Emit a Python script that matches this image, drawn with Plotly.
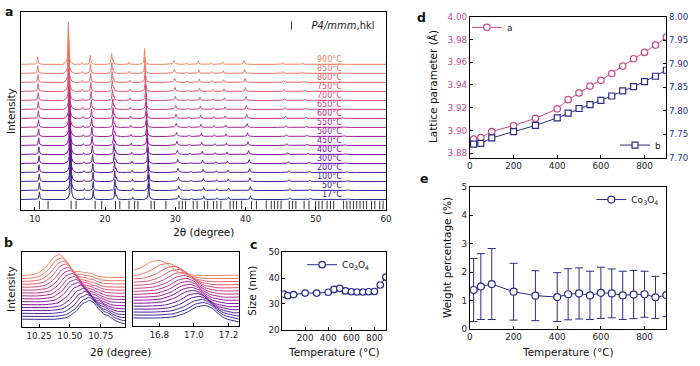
import numpy as np
import plotly.graph_objects as go

W, H = 700, 366
FONT = "DejaVu Sans"

# ---------------- data ----------------
TEMPS = [17, 50, 100, 200, 300, 400, 450, 500, 550, 600, 650, 700, 750, 800, 850, 900]
TEMP_LABELS = [f"{t}°C" for t in TEMPS]

CURVE_COLORS = ["#2c2a96", "#3a2398", "#4a1d9c", "#5b169f", "#6c12a0", "#7d109f",
                "#8e149c", "#9e1c96", "#ad268f", "#bb3188", "#c83d80", "#d34a78",
                "#dd5870", "#e5676a", "#eb7565", "#f08460"]

# panel a: reflections of the 17 °C pattern (2theta, height, width factor)
A_PEAK_POS = [10.66, 15.12, 17.07, 18.32, 21.42, 21.62, 23.95, 26.22, 30.5, 32.3,
              34.06, 35.95, 37.6, 40.72, 46.3, 49.25, 54.6]
A_PEAK_H = [0.85, 4.7, 0.2, 1.0, 1.15, 0.35, 0.25, 1.75, 0.45, 0.12,
            0.35, 0.2, 0.28, 0.42, 0.2, 0.15, 0.1]
A_PEAK_W = [1, 1, 1, 1, 1, 1, 1, 1, 1.8, 1.5, 1.3, 1.2, 1.2, 1.3, 1.5, 1.5, 1.5]
# peak position scale for each temperature (thermal expansion)
A_SCALE = [1.0, 0.99964, 0.99828, 0.99693, 0.99533, 0.99319, 0.99117, 0.98966,
           0.98815, 0.98690, 0.98540, 0.98376, 0.98217, 0.98078, 0.97920, 0.97748]
A_PROF_DX = [-0.8, -0.35, -0.15, -0.06, 0.0, 0.06, 0.15, 0.35, 0.8]
A_PROF_Y = [0.0, 0.05, 0.16, 0.5, 1.0, 0.5, 0.16, 0.05, 0.0]

HKL_POS = [10.66, 11.89, 15.17, 15.87, 18.59, 19.52, 21.49, 22.10, 23.41, 24.21, 24.68,
           26.55, 27.02, 28.66, 30.53, 31.0, 31.47, 32.55, 33.11, 34.14, 34.61, 35.45,
           35.92, 36.49, 37.8, 38.26, 38.73, 39.44, 40.84, 41.55, 42.95, 43.66, 44.12,
           44.59, 45.06, 46.23, 46.70, 47.17, 48.34, 49.04, 49.98, 50.44, 50.91, 51.61,
           52.09, 52.55, 53.96, 54.42, 54.89, 55.36, 55.83, 56.3, 56.77, 57.24, 57.94,
           58.41, 59.11, 59.58]

# panel b, left window (~10.5 deg)
B1_MAIN_POS = [10.657, 10.653, 10.639, 10.624, 10.607, 10.584, 10.563, 10.547,
               10.531, 10.517, 10.501, 10.484, 10.467, 10.452, 10.435, 10.417]
B1_MAIN_H = [6.0, 6.05, 6.1, 6.15, 6.2, 6.3, 6.35, 6.4, 6.45, 6.5, 6.6, 6.65, 6.75, 6.8, 6.9, 7.0]
B1_SIDE_POS = [10.81, 10.805, 10.795, 10.78, 10.765, 10.745, 10.73, 10.715,
               10.70, 10.69, 10.68, 10.67, 10.66, 10.65, 10.64, 10.633]
B1_SIDE_H = [2.0, 2.0, 1.98, 1.96, 1.94, 1.92, 1.9, 1.88, 1.86, 1.84, 1.82, 1.8, 1.78, 1.75, 1.72, 1.7]
B1_DROP = [1.7, 1.65, 1.6, 1.55, 1.5, 1.45, 1.4, 1.3, 1.25, 1.2, 1.1, 1.05, 1.0, 0.9, 0.8, 0.7]

# panel b, right window (~17 deg)
B2_MAIN_POS = [17.065, 17.06, 17.05, 17.035, 17.02, 17.0, 16.99, 16.98,
               16.97, 16.96, 16.95, 16.935, 16.915, 16.89, 16.855, 16.80]
B2_MAIN_H = [4.2, 4.2, 4.2, 4.25, 4.25, 4.25, 4.3, 4.3, 4.3, 4.3, 4.3, 4.35, 4.35, 4.35, 4.4, 4.4]
B2_DROP = [1.4, 1.35, 1.3, 1.25, 1.2, 1.15, 1.1, 1.0, 0.95, 0.9, 0.85, 0.8, 0.75, 0.7, 0.65, 0.6]

B_PROF_DX = [-0.28, -0.18, -0.11, -0.05, 0.0, 0.04, 0.08, 0.12, 0.2]
B_PROF_Y = [0.0, 0.1, 0.42, 0.88, 1.0, 0.8, 0.4, 0.12, 0.0]
DROP_DX = [0.03, 0.2]

# panel c
C_SIZE = [33.8, 33.2, 33.6, 34.2, 34.2, 34.5, 35.6, 36.0, 35.0, 34.7, 34.6, 34.6, 34.7, 34.8, 37.3, 40.3]

# panel d
LAT_A = [3.8923, 3.8937, 3.899, 3.9043, 3.9106, 3.919, 3.927, 3.933, 3.939, 3.944,
         3.950, 3.9566, 3.963, 3.9686, 3.975, 3.982]
LAT_B = [7.7287, 7.7307, 7.742, 7.7553, 7.7687, 7.7847, 7.7947, 7.8047, 7.813, 7.822,
         7.8313, 7.842, 7.851, 7.862, 7.8733, 7.886]

# panel e
E_VAL = [1.37, 1.49, 1.58, 1.31, 1.17, 1.12, 1.22, 1.25, 1.18, 1.27, 1.25, 1.18, 1.21, 1.22, 1.11, 1.19]
E_ERR = [1.11, 1.16, 1.25, 1.0, 0.88, 0.86, 0.9, 0.9, 0.85, 0.9, 0.86, 0.85, 0.85, 0.81, 0.74, 0.76]

PINK = "#c94d8a"
NAVY = "#2b2b8a"


def build_curve(centres, heights, widths, prof_dx, prof_y, x_lo, x_hi, extra=()):
    dx = np.asarray(prof_dx, dtype=float)
    xs = [x_lo, x_hi, *extra]
    for c, w in zip(centres, widths):
        xs.extend(c + w * dx)
    xs = np.unique(np.clip(xs, x_lo, x_hi))
    ys = np.zeros_like(xs)
    for c, h, w in zip(centres, heights, widths):
        ys += h * np.interp(xs - c, w * dx, prof_y, left=0, right=0)
    return xs, ys


fig = go.Figure()

# ---- panel a ----
for i in range(len(TEMPS)):
    pos = np.asarray(A_PEAK_POS) * A_SCALE[i]
    xs, ys = build_curve(pos, A_PEAK_H, A_PEAK_W, A_PROF_DX, A_PROF_Y, 8, 60)
    fig.add_trace(go.Scatter(x=xs, y=ys + i, mode="lines", xaxis="x", yaxis="y",
                             line=dict(color=CURVE_COLORS[i], width=1),
                             showlegend=False, hoverinfo="skip"))
fig.add_trace(go.Scatter(x=HKL_POS, y=[-0.6] * len(HKL_POS), mode="markers",
                         xaxis="x", yaxis="y", name="<i>P4/mmm</i>,hkl",
                         marker=dict(symbol="line-ns-open", size=6, color="#333",
                                     line=dict(width=1, color="#333")),
                         legend="legend", hoverinfo="skip"))

# ---- panel b ----
for i in range(len(TEMPS)):
    p = B1_MAIN_POS[i]
    xs, ys = build_curve([p, B1_SIDE_POS[i]], [B1_MAIN_H[i], B1_SIDE_H[i]], [1, 1],
                         B_PROF_DX, B_PROF_Y, 10.11, 10.95, extra=[p + d for d in DROP_DX])
    ys = ys - B1_DROP[i] * np.interp(xs - p, DROP_DX, [0, 1])
    fig.add_trace(go.Scatter(x=xs, y=ys + i, mode="lines", xaxis="x2", yaxis="y2",
                             line=dict(color=CURVE_COLORS[i], width=1, shape="spline", smoothing=0.6),
                             showlegend=False, hoverinfo="skip"))
    p = B2_MAIN_POS[i]
    xs, ys = build_curve([p], [B2_MAIN_H[i]], [1], B_PROF_DX, B_PROF_Y, 16.65, 17.26,
                         extra=[p + d for d in DROP_DX])
    ys = ys - B2_DROP[i] * np.interp(xs - p, DROP_DX, [0, 1])
    fig.add_trace(go.Scatter(x=xs, y=ys + i, mode="lines", xaxis="x3", yaxis="y3",
                             line=dict(color=CURVE_COLORS[i], width=1, shape="spline", smoothing=0.6),
                             showlegend=False, hoverinfo="skip"))

# ---- panel c ----
fig.add_trace(go.Scatter(x=TEMPS, y=C_SIZE, mode="lines+markers", name="Co<sub>3</sub>O<sub>4</sub>",
                         xaxis="x4", yaxis="y4", legend="legend2",
                         line=dict(color=NAVY, width=1),
                         marker=dict(symbol="circle", size=6.5, color="white",
                                     line=dict(color=NAVY, width=1.2))))

# ---- panel d ----
fig.add_trace(go.Scatter(x=TEMPS, y=LAT_A, mode="lines+markers", name="a",
                         xaxis="x5", yaxis="y5", legend="legend3",
                         line=dict(color=PINK, width=1),
                         marker=dict(symbol="circle", size=6.5, color="white",
                                     line=dict(color=PINK, width=1.2))))
fig.add_trace(go.Scatter(x=TEMPS, y=LAT_B, mode="lines+markers", name="b",
                         xaxis="x5", yaxis="y6", legend="legend4",
                         line=dict(color=NAVY, width=1),
                         marker=dict(symbol="square", size=6, color="white",
                                     line=dict(color=NAVY, width=1.2))))

# ---- panel e ----
fig.add_trace(go.Scatter(x=TEMPS, y=E_VAL, mode="lines+markers", name="Co<sub>3</sub>O<sub>4</sub>",
                         xaxis="x6", yaxis="y7", legend="legend5",
                         error_y=dict(type="data", array=E_ERR, color=NAVY, thickness=1, width=4),
                         line=dict(color=NAVY, width=1),
                         marker=dict(symbol="circle", size=7, color="white",
                                     line=dict(color=NAVY, width=1.2))))


def px_x(px):
    return px / W


def px_y(py):
    return 1 - py / H


def axis(x0, x1, **kw):
    d = dict(domain=[px_x(x0), px_x(x1)], showline=True, linecolor="black", linewidth=1,
             mirror=True, ticks="inside", ticklen=3, tickwidth=1, tickcolor="black",
             showgrid=False, zeroline=False, tickfont=dict(size=8.8, color="#222"))
    d.update(kw)
    return d


def yaxis(y0, y1, **kw):
    d = dict(domain=[px_y(y1), px_y(y0)], showline=True, linecolor="black", linewidth=1,
             mirror=True, ticks="inside", ticklen=3, tickwidth=1, tickcolor="black",
             showgrid=False, zeroline=False, tickfont=dict(size=8.8, color="#222"))
    d.update(kw)
    return d


def legend_at(xpx, ypx, size=9):
    return dict(x=px_x(xpx), y=px_y(ypx), xanchor="left", yanchor="middle",
                bgcolor="rgba(0,0,0,0)", font=dict(size=size, family=FONT, color="#222"),
                itemwidth=30, tracegroupgap=0)


fig.update_layout(
    width=W, height=H, margin=dict(l=0, r=0, t=0, b=0),
    paper_bgcolor="white", plot_bgcolor="white",
    font=dict(family=FONT, color="#222"),
    showlegend=True,
    xaxis=axis(18, 388, range=[8, 60], tickvals=[10, 20, 30, 40, 50, 60], anchor="y"),
    yaxis=yaxis(7, 211, range=[-1.19, 20.83], showticklabels=False, ticks="", anchor="x"),
    xaxis2=axis(19, 124, range=[10.11, 10.95], tickvals=[10.25, 10.5, 10.75],
                ticktext=["10.25", "10.50", "10.75"], anchor="y2"),
    yaxis2=yaxis(254, 331, range=[-2.67, 23.0], showticklabels=False, ticks="", anchor="x2"),
    xaxis3=axis(132, 239, range=[16.65, 17.26], tickvals=[16.8, 17.0, 17.2],
                ticktext=["16.8", "17.0", "17.2"], anchor="y3"),
    yaxis3=yaxis(254, 330, range=[-2.7, 22.2], showticklabels=False, ticks="", anchor="x3"),
    xaxis4=axis(283, 388, range=[3, 900], tickvals=[200, 400, 600, 800], anchor="y4"),
    yaxis4=yaxis(254, 334, range=[20, 50], tickvals=[20, 30, 40, 50], anchor="x4"),
    xaxis5=axis(473, 672, range=[0, 900], tickvals=[0, 200, 400, 600, 800], anchor="y5"),
    yaxis5=yaxis(12, 157, range=[3.876, 4.0], tickvals=[3.88, 3.90, 3.92, 3.94, 3.96, 3.98, 4.00],
                 tickformat=".2f", mirror=False, tickfont=dict(size=8.8, color=PINK), anchor="x5"),
    yaxis6=dict(overlaying="y5", side="right", anchor="x5", range=[7.70, 8.00],
                tickvals=[7.70, 7.75, 7.80, 7.85, 7.90, 7.95, 8.00], tickformat=".2f",
                showline=True, linecolor="black", linewidth=1, ticks="inside", ticklen=3,
                tickcolor="black", showgrid=False, zeroline=False,
                tickfont=dict(size=8.6, color=NAVY)),
    xaxis6=axis(473, 672, range=[0, 900], tickvals=[0, 200, 400, 600, 800], anchor="y7"),
    yaxis7=yaxis(187, 333, range=[0, 5], tickvals=[0, 1, 2, 3, 4, 5], anchor="x6"),
    legend=legend_at(272, 21, size=10),
    legend2=legend_at(303, 267),
    legend3=legend_at(470, 23),
    legend4=legend_at(620, 144),
    legend5=legend_at(596, 200),
)

annotations = []


def ann(text, xpx, ypx, size=10.5, angle=0, bold=False, color="#111", xanchor="center"):
    annotations.append(dict(text=f"<b>{text}</b>" if bold else text, x=px_x(xpx), y=px_y(ypx),
                            xref="paper", yref="paper", showarrow=False, textangle=angle,
                            xanchor=xanchor, yanchor="middle",
                            font=dict(size=size, family=FONT, color=color)))


# panel letters
ann("a", 6, 7, size=12.5, bold=True)
ann("b", 6, 244, size=12.5, bold=True)
ann("c", 254, 246, size=12.5, bold=True)
ann("d", 424, 13, size=12.5, bold=True)
ann("e", 426, 178, size=12.5, bold=True)

# axis titles
ann("Intensity", 8, 109, angle=-90)
ann("2θ (degree)", 203, 233)
ann("Intensity", 8, 292, angle=-90)
ann("2θ (degree)", 119, 357)
ann("Size (nm)", 252, 294, angle=-90)
ann("Temperature (°C)", 335, 357)
ann("Lattice parameter (Å)", 435, 84, angle=-90)
ann("Weight percentage (%)", 450, 260, angle=-90)
ann("Temperature (°C)", 572, 357)

# temperature labels in panel a
for i, lab in enumerate(TEMP_LABELS):
    annotations.append(dict(text=lab, x=54.0, y=i + 0.55, xref="x", yref="y",
                            showarrow=False, xanchor="right", yanchor="middle",
                            font=dict(size=8, family=FONT, color=CURVE_COLORS[i])))

fig.update_layout(annotations=annotations)

# drop the default page margin so the 700x366 figure fills the window exactly
fig.write_html("out.html", config={"displayModeBar": False},
               post_script="document.body.style.margin='0';document.body.style.overflow='hidden';")
